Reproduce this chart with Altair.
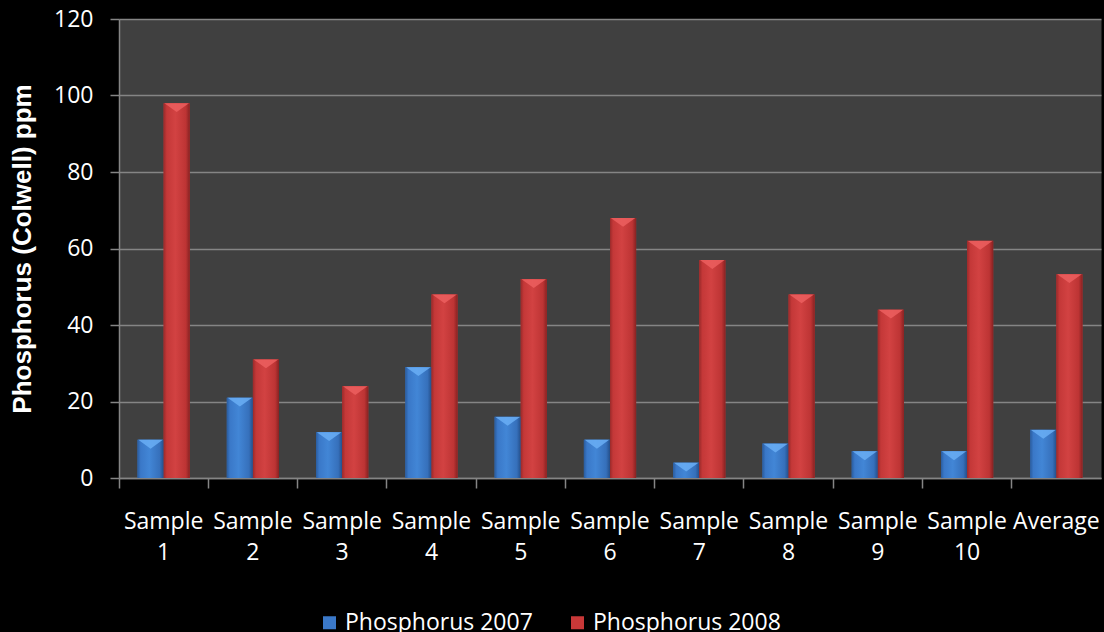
import altair as alt
import pandas as pd

categories = ["Sample 1", "Sample 2", "Sample 3", "Sample 4", "Sample 5", "Sample 6",
              "Sample 7", "Sample 8", "Sample 9", "Sample 10", "Average"]
p2007 = [10, 21, 12, 29, 16, 10, 4, 9, 7, 7, 12.6]
p2008 = [98, 31, 24, 48, 52, 68, 57, 48, 44, 62, 53.3]
series = ["Phosphorus 2007", "Phosphorus 2008"]
colors = ["#3a78c8", "#c83838"]
y_ticks = [0, 20, 40, 60, 80, 100, 120]

rows = []
for c, a, b in zip(categories, p2007, p2008):
    rows.append({"category": c, "series": series[0], "value": a})
    rows.append({"category": c, "series": series[1], "value": b})
df = pd.DataFrame(rows)

FONT = "Open Sans"
GRID = "#858585"

x_enc = alt.X(
    "category:N", sort=categories,
    scale=alt.Scale(paddingInner=0.415, paddingOuter=0.2075),
    axis=alt.Axis(
        title=None, labelExpr="split(datum.label, ' ')", labelAngle=0,
        bandPosition=-0.3547, tickSize=10, tickColor=GRID, tickWidth=1.5,
        domainColor=GRID, domainWidth=1.5,
        labelFont=FONT, labelFontSize=23, labelColor="white",
        labelLineHeight=31, labelPadding=22, labelBaseline="top",
    ),
)
xo_enc = alt.XOffset("series:N", sort=series,
                     scale=alt.Scale(domain=series, paddingInner=0, paddingOuter=0))
y_enc = alt.Y(
    "value:Q",
    scale=alt.Scale(domain=[0, 120], nice=False),
    axis=alt.Axis(
        values=y_ticks, title="Phosphorus (Colwell) ppm",
        grid=True, gridColor=GRID, gridWidth=1.5,
        domainColor=GRID, domainWidth=1.5,
        tickColor=GRID, tickSize=9, tickWidth=1.5,
        labelFont=FONT, labelFontSize=23, labelColor="white", labelPadding=17,
        titleFont="Liberation Sans", titleFontWeight="bold", titleFontSize=26,
        titleColor="white", titleAngle=270, titleX=-97, titleY=229.5,
        titleAlign="center", titleBaseline="middle",
    ),
)


def grad(stops):
    return alt.LinearGradient(
        gradient="linear",
        stops=[alt.GradientStop(offset=o, color=c) for o, c in stops],
        x1=0, x2=1, y1=0, y2=0,
    )


base = alt.Chart(df).mark_bar().encode(
    x=x_enc, xOffset=xo_enc, y=y_enc,
    color=alt.Color(
        "series:N", sort=series,
        scale=alt.Scale(domain=series, range=colors),
        legend=alt.Legend(
            title=None, orient="none", legendX=199, legendY=592,
            direction="horizontal", symbolType="square", symbolSize=169,
            symbolStrokeWidth=0, labelFont=FONT, labelFontSize=23,
            labelColor="white", columnPadding=33, labelOffset=4, labelLimit=0,
        ),
    ),
)

blue = alt.Chart(df).transform_filter(alt.datum.series == series[0]).mark_bar(
    color=grad([(0, "#2a5c9e"), (0.12, "#3a78c8"), (0.45, "#4286d6"), (0.85, "#3670bb"), (1, "#244f8a")])
).encode(x=x_enc, xOffset=xo_enc, y=y_enc)

red = alt.Chart(df).transform_filter(alt.datum.series == series[1]).mark_bar(
    color=grad([(0, "#9a2a2a"), (0.12, "#c43838"), (0.45, "#d24242"), (0.85, "#bd3434"), (1, "#872222")])
).encode(x=x_enc, xOffset=xo_enc, y=y_enc)

TRI = "M-1,-0.4L1,-0.4L0,0.32Z"
blue_tri = alt.Chart(df).transform_filter(alt.datum.series == series[0]).mark_point(
    shape=TRI, filled=True, size=600, yOffset=5, color="#6aaef5", opacity=0.85
).encode(x=x_enc, xOffset=xo_enc, y=y_enc)
red_tri = alt.Chart(df).transform_filter(alt.datum.series == series[1]).mark_point(
    shape=TRI, filled=True, size=600, yOffset=5, color="#ec5f5f", opacity=0.85
).encode(x=x_enc, xOffset=xo_enc, y=y_enc)

chart = alt.layer(base, blue, red, blue_tri, red_tri).properties(
    width=982, height=459,
    autosize=alt.AutoSizeParams(type="none"),
    padding={"left": 119, "top": 19, "right": 3, "bottom": 154},
    background="black",
).configure_view(fill="#404040", stroke="transparent")

chart.save("out.html", embed_options={"renderer": "svg", "actions": False})
